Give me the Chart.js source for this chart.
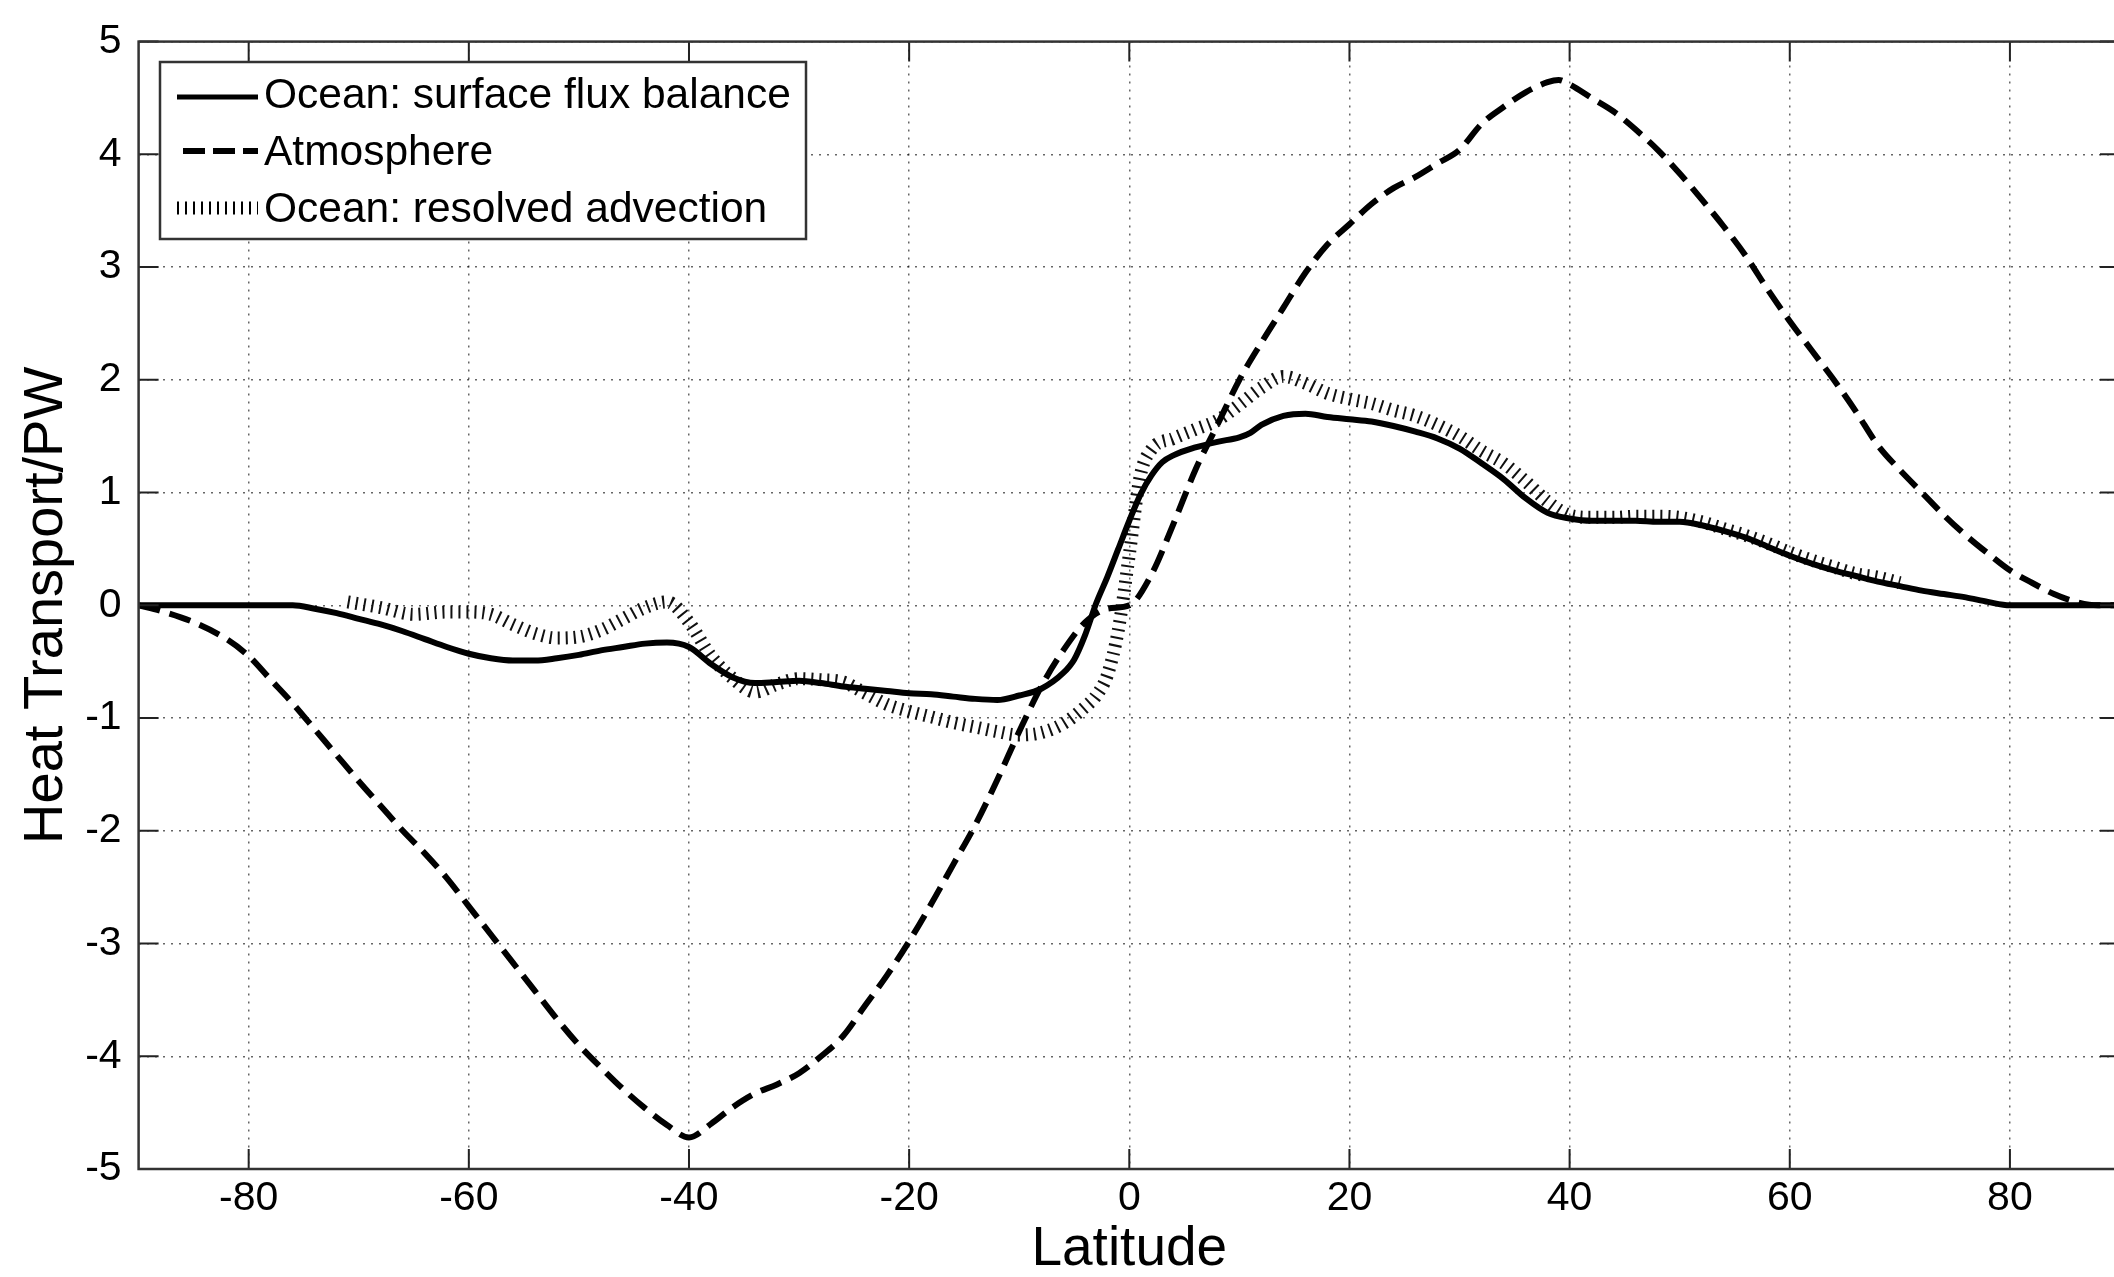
<!DOCTYPE html>
<html>
<head>
<meta charset="utf-8">
<script src="https://cdn.jsdelivr.net/npm/chart.js@4.4.1/dist/chart.umd.min.js"></script>
<style>
  html, body { margin: 0; padding: 0; background: #fff; overflow: hidden; }
  /* o gráfico original está cortado à direita: a área é um pouco mais larga que a janela */
  #wrap { position: absolute; left: 0; top: 0; width: 2120px; height: 1277px; }
</style>
</head>
<body>
<div id="wrap"><canvas id="grafico"></canvas></div>
<script>
// ===== DADOS =====
const atmLat = [-90,-88,-85,-82,-80,-78,-76,-74,-72,-70,-68,-66,-64,-62,-60,-58,-56,-54,-52,-50,
  -48,-46,-44,-42,-40,-38,-36,-34,-32,-30,-28,-26,-24,-22,-20,-18,-16,-14,-12,-10,
  -8,-6,-4,-2,0,2,4,6,8,10,12,14,16,18,20,22,24,26,28,30,
  32,34,36,38,39,40,42,44,46,48,50,52,54,56,58,60,62,64,66,68,
  70,72,74,76,78,80,82,84,86,88,90];
const atmHeat = [0,-0.05,-0.15,-0.3,-0.45,-0.66,-0.87,-1.1,-1.33,-1.56,-1.78,-2.0,-2.2,-2.42,-2.67,-2.92,-3.17,-3.42,-3.67,-3.9,
  -4.1,-4.29,-4.46,-4.61,-4.72,-4.6,-4.45,-4.33,-4.25,-4.15,-4.0,-3.82,-3.55,-3.28,-2.98,-2.65,-2.3,-1.95,-1.55,-1.12,
  -0.72,-0.4,-0.15,-0.03,0,0.27,0.72,1.2,1.6,2.0,2.33,2.64,2.95,3.2,3.38,3.56,3.7,3.8,3.92,4.04,
  4.27,4.42,4.55,4.64,4.66,4.62,4.5,4.38,4.22,4.04,3.83,3.6,3.36,3.1,2.8,2.52,2.26,2.0,1.72,1.42,
  1.2,1.0,0.8,0.62,0.46,0.31,0.2,0.1,0.03,0,0];

const oceanLat = [-90,-80,-76,-74,-72,-70,-68,-66,-64,-62,-60,-58,-56,-54,-52,-50,-48,-46,-44,-42,
  -40,-38,-36,-34,-32,-30,-28,-26,-24,-22,-20,-18,-16,-14,-12,-10,-8,-6,-5,-4,
  -3,-2,-1,0,1,2,3,4,6,8,10,11,12,14,16,18,20,22,24,26,
  28,30,32,34,36,38,40,42,44,46,48,50,52,54,56,58,60,62,64,66,
  68,70,72,74,76,78,80,90];
const oceanHeat = [0,0,0,-0.03,-0.07,-0.12,-0.17,-0.23,-0.3,-0.37,-0.43,-0.47,-0.49,-0.49,-0.47,-0.44,-0.4,-0.37,-0.34,-0.33,
  -0.37,-0.52,-0.64,-0.69,-0.68,-0.67,-0.69,-0.72,-0.74,-0.76,-0.78,-0.79,-0.81,-0.83,-0.84,-0.8,-0.74,-0.6,-0.48,-0.26,
  0.02,0.25,0.5,0.75,0.98,1.15,1.27,1.33,1.4,1.45,1.49,1.53,1.6,1.68,1.7,1.67,1.65,1.63,1.59,1.54,
  1.48,1.39,1.26,1.12,0.95,0.82,0.77,0.75,0.75,0.75,0.74,0.74,0.71,0.66,0.6,0.52,0.44,0.37,0.31,0.26,
  0.21,0.17,0.13,0.1,0.07,0.03,0,0];

const advLat = [-71,-68,-65,-62,-60,-58,-56,-54,-52,-50,-48,-46,-44,-42,-40,-38,-36,-34,-32,-30,
  -28,-26,-24,-22,-20,-18,-16,-14,-12,-10,-8,-6,-4,-3,-2,-1,0,1,2,4,
  6,8,10,12,14,16,18,20,22,24,26,28,30,32,34,36,38,40,42,44,
  46,48,50,52,54,56,58,60,62,64,66,68,70];
const advHeat = [0.03,-0.02,-0.08,-0.06,-0.06,-0.08,-0.17,-0.25,-0.29,-0.28,-0.22,-0.12,-0.02,0.03,-0.15,-0.45,-0.65,-0.77,-0.7,-0.65,
  -0.66,-0.68,-0.78,-0.88,-0.94,-0.99,-1.04,-1.08,-1.12,-1.15,-1.13,-1.05,-0.9,-0.8,-0.62,-0.22,0.45,1.15,1.38,1.48,
  1.56,1.64,1.78,1.93,2.03,1.97,1.88,1.83,1.79,1.73,1.68,1.6,1.5,1.37,1.26,1.1,0.92,0.8,0.78,0.78,
  0.79,0.79,0.78,0.74,0.68,0.62,0.55,0.47,0.4,0.34,0.28,0.25,0.2];

const xTicks = [-80, -60, -40, -20, 0, 20, 40, 60, 80];
const yTicks = [-5, -4, -3, -2, -1, 0, 1, 2, 3, 4, 5];
const legendLabels = ['Ocean: surface flux balance', 'Atmosphere', 'Ocean: resolved advection'];

// ===== ESTILO =====
const FONTE = "'Liberation Sans', Arial, sans-serif";
const TRACO_ATM = [22, 10];      // tracejado da atmosfera
const TRACO_ADV = [2, 6];        // linha grossa pontilhada -> riscos perpendiculares

function pontos(lat, valores) {
  return lat.map((x, i) => ({ x, y: valores[i] }));
}

// Moldura da área do gráfico + marcas de escala para dentro (estilo MATLAB)
const moldura = {
  id: 'moldura',
  afterDatasetsDraw(chart) {
    const { ctx, chartArea: a, scales } = chart;
    const tam = 20;
    ctx.save();
    ctx.strokeStyle = '#222';
    ctx.lineWidth = 2;
    ctx.setLineDash([]);
    ctx.beginPath();
    xTicks.forEach(v => {
      const px = scales.x.getPixelForValue(v);
      ctx.moveTo(px, a.bottom); ctx.lineTo(px, a.bottom - tam);
      ctx.moveTo(px, a.top); ctx.lineTo(px, a.top + tam);
    });
    yTicks.forEach(v => {
      const py = scales.y.getPixelForValue(v);
      ctx.moveTo(a.left, py); ctx.lineTo(a.left + tam, py);
      ctx.moveTo(a.right, py); ctx.lineTo(a.right - tam, py);
    });
    ctx.stroke();
    ctx.lineWidth = 2.5;
    ctx.strokeStyle = '#333';
    ctx.strokeRect(a.left, a.top, a.right - a.left, a.bottom - a.top);
    ctx.restore();
  }
};

// Legenda dentro do gráfico, no canto superior esquerdo
const legendaMatlab = {
  id: 'legendaMatlab',
  afterDraw(chart) {
    const ctx = chart.ctx;
    const caixa = { x: 160, y: 62, w: 646, h: 177 };
    ctx.save();
    ctx.fillStyle = '#fff';
    ctx.fillRect(caixa.x, caixa.y, caixa.w, caixa.h);
    ctx.lineWidth = 2.5;
    ctx.strokeStyle = '#333';
    ctx.setLineDash([]);
    ctx.strokeRect(caixa.x, caixa.y, caixa.w, caixa.h);

    const linhasY = [97, 151, 208];
    const textoY = [108, 165, 222];
    const estilos = [
      { w: 5, dash: [], x0: 177 },
      { w: 6, dash: [22, 8], x0: 183 },
      { w: 13, dash: TRACO_ADV, x0: 177 }
    ];
    estilos.forEach((e, i) => {
      ctx.beginPath();
      ctx.lineWidth = e.w;
      ctx.strokeStyle = '#000';
      ctx.setLineDash(e.dash);
      ctx.moveTo(e.x0, linhasY[i]);
      ctx.lineTo(258, linhasY[i]);
      ctx.stroke();
    });
    ctx.setLineDash([]);
    ctx.fillStyle = '#000';
    ctx.font = '42.5px ' + FONTE;
    ctx.textBaseline = 'alphabetic';
    ctx.textAlign = 'left';
    legendLabels.forEach((t, i) => ctx.fillText(t, 264, textoY[i]));
    ctx.restore();
  }
};

const ctx = document.getElementById('grafico').getContext('2d');
const grafico = new Chart(ctx, {
  type: 'line',
  data: {
    datasets: [
      {
        label: legendLabels[0],
        data: pontos(oceanLat, oceanHeat),
        borderColor: '#000',
        borderWidth: 6,
        borderJoinStyle: 'round',
        cubicInterpolationMode: 'monotone',
        pointRadius: 0
      },
      {
        label: legendLabels[1],
        data: pontos(atmLat, atmHeat),
        borderColor: '#000',
        borderWidth: 6,
        borderDash: TRACO_ATM,
        cubicInterpolationMode: 'monotone',
        pointRadius: 0
      },
      {
        label: legendLabels[2],
        data: pontos(advLat, advHeat),
        borderColor: '#111',
        borderWidth: 13,
        borderDash: TRACO_ADV,
        borderCapStyle: 'butt',
        cubicInterpolationMode: 'monotone',
        pointRadius: 0
      }
    ]
  },
  options: {
    responsive: true,
    maintainAspectRatio: false,
    animation: false,
    layout: { padding: { top: 29, left: 0, right: 0, bottom: 0 } },
    plugins: {
      legend: { display: false },
      tooltip: { enabled: false }
    },
    scales: {
      x: {
        type: 'linear',
        min: -90,
        max: 90,
        afterBuildTicks: (eixo) => { eixo.ticks = xTicks.map(v => ({ value: v })); },
        afterFit: (eixo) => { eixo.height = 108; },
        ticks: {
          autoSkip: false,
          maxRotation: 0,
          padding: 5,
          color: '#000',
          font: { family: FONTE, size: 41 }
        },
        grid: { color: 'rgba(0,0,0,0.6)', lineWidth: 1.5, drawTicks: false },
        border: { display: false, dash: [2, 6] },
        title: {
          display: true,
          text: 'Latitude',
          color: '#000',
          font: { family: FONTE, size: 55, lineHeight: 1 },
          padding: { top: 0, bottom: 0 }
        }
      },
      y: {
        min: -5,
        max: 5,
        afterBuildTicks: (eixo) => { eixo.ticks = yTicks.map(v => ({ value: v })); },
        afterFit: (eixo) => { eixo.width = 138.6; },
        ticks: {
          autoSkip: false,
          padding: 17,
          color: '#000',
          font: { family: FONTE, size: 41 }
        },
        grid: { color: 'rgba(0,0,0,0.6)', lineWidth: 1.5, drawTicks: false },
        border: { display: false, dash: [2, 6] },
        title: {
          display: true,
          text: 'Heat Transport/PW',
          color: '#000',
          font: { family: FONTE, size: 56, lineHeight: 1 },
          padding: { top: 19, bottom: 0 }
        }
      }
    }
  },
  plugins: [moldura, legendaMatlab]
});
</script>
</body>
</html>
